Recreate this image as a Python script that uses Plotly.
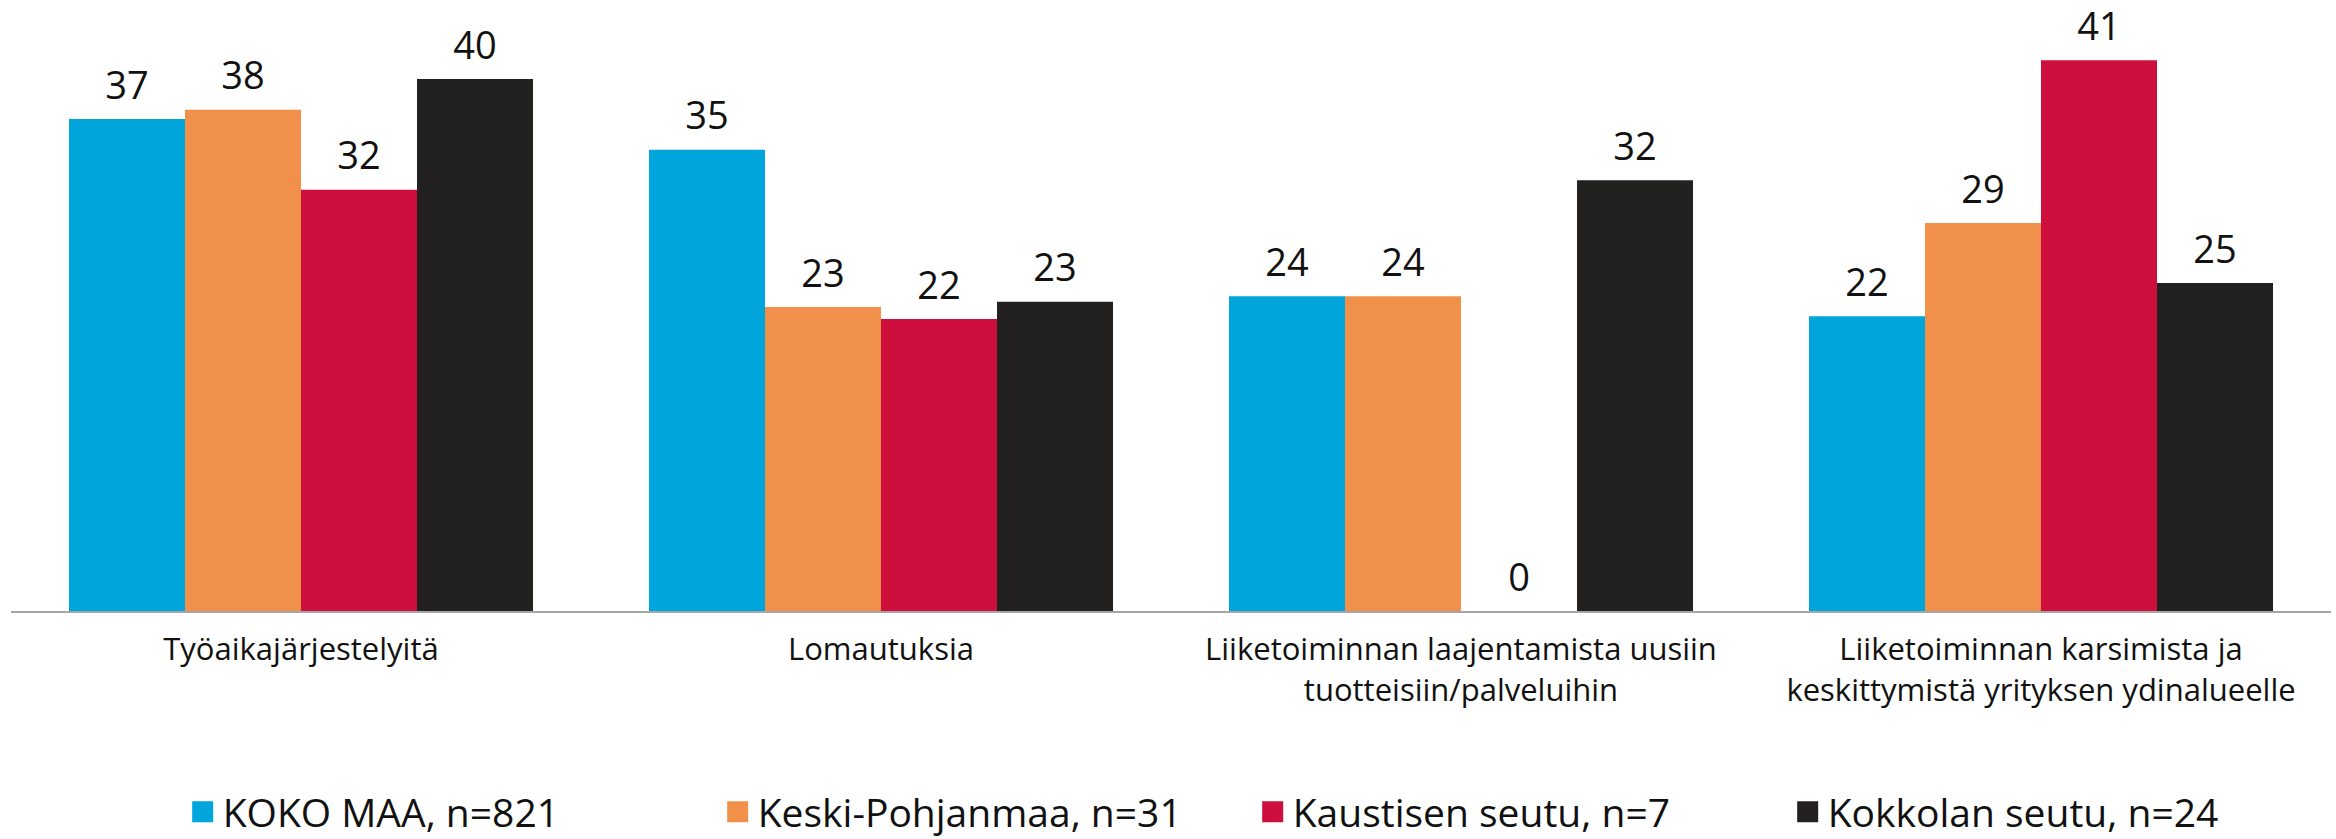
import plotly.graph_objects as go

categories = [
    "Työaikajärjestelyitä",
    "Lomautuksia",
    "Liiketoiminnan laajentamista uusiin<br>tuotteisiin/palveluihin",
    "Liiketoiminnan karsimista ja<br>keskittymistä yrityksen ydinalueelle",
]
series_names = ["KOKO MAA, n=821", "Keski-Pohjanmaa, n=31", "Kaustisen seutu, n=7", "Kokkolan seutu, n=24"]
koko_maa = [36.9, 34.6, 23.6, 22.1]
keski_pohjanmaa = [37.6, 22.8, 23.6, 29.1]
kaustisen_seutu = [31.6, 21.9, 0, 41.3]
kokkolan_seutu = [39.9, 23.2, 32.3, 24.6]
series_values = [koko_maa, keski_pohjanmaa, kaustisen_seutu, kokkolan_seutu]
colors = ["#00A5DB", "#F0904B", "#CE0F3D", "#232120"]

FONT = "Open Sans"
fig = go.Figure()
for name, vals, col in zip(series_names, series_values, colors):
    fig.add_trace(go.Bar(
        x=categories, y=vals, name=name, marker=dict(color=col, line=dict(width=0)),
        offsetgroup=name, alignmentgroup="a", showlegend=False,
    ))
for name, vals, col in zip(series_names, series_values, colors):
    fig.add_trace(go.Scatter(
        x=categories, y=vals, mode="markers+text", showlegend=False,
        text=[f"{v:.0f}" for v in vals], textposition="top center",
        textfont=dict(family=FONT, size=38, color="#111111"),
        marker=dict(size=16, opacity=0), offsetgroup=name, alignmentgroup="a",
        cliponaxis=False, hoverinfo="skip",
    ))
# legend entries (square swatches)
for name, col in zip(series_names, colors):
    fig.add_trace(go.Scatter(
        x=[None], y=[None], mode="markers", name=name,
        marker=dict(symbol="square", size=16, color=col, line=dict(width=5, color=col)),
        offsetgroup=name, alignmentgroup="a", hoverinfo="skip",
    ))

fig.update_layout(
    width=2336, height=839,
    margin=dict(l=11, r=5, t=11, b=228, autoexpand=False),
    paper_bgcolor="white", plot_bgcolor="white",
    barmode="group", bargap=0.2, bargroupgap=0,
    scattermode="group", scattergap=0.2,
    font=dict(family=FONT, color="#111111"),
    xaxis=dict(
        showline=True, linecolor="#A6A6A6", linewidth=2,
        ticks="outside", ticklen=10, tickcolor="rgba(0,0,0,0)",
        tickfont=dict(family=FONT, size=31, color="#111111"),
        showgrid=False, zeroline=False,
    ),
    yaxis=dict(range=[0, 45], visible=False, showgrid=False, zeroline=False),
    legend=dict(
        orientation="h", x=0.074, xanchor="left", y=-0.335, yanchor="middle",
        font=dict(family=FONT, size=39, color="#111111"),
        entrywidth=490, entrywidthmode="pixels", traceorder="normal",
    ),
)
fig.write_html("out.html", config={"displayModeBar": False},
               post_script="document.body.style.margin='0px';")
